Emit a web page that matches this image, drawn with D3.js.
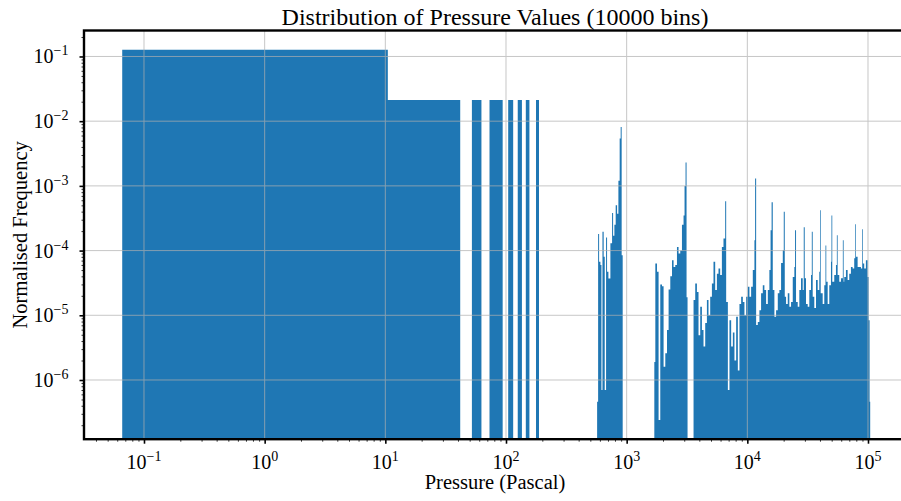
<!DOCTYPE html>
<html>
<head>
<meta charset="utf-8">
<script src="https://cdn.jsdelivr.net/npm/d3@7"></script>
<style>
  body { margin: 0; background: #fff; }
  svg { display: block; }
  text { font-family: "Liberation Serif", "DejaVu Serif", serif; fill: #000; }
</style>
</head>
<body>
<div id="chart"></div>
<script>
// low pressure bins (Pa), bin width ~10.42 Pa
const lowStart = [0.066, 10.49, 52.17, 73.01, 104.27, 125.11, 145.95, 177.21];
const lowEnd   = [10.49, 41.75, 62.59, 93.85, 114.69, 135.53, 156.37, 187.63];
const lowFreq  = [0.127, 0.0212, 0.0212, 0.0212, 0.0212, 0.0212, 0.0212, 0.0212];

// high pressure bars: consecutive edges (Pa), one frequency per interval, 0 = empty
const highEdges = [
  569, 580, 591, 606, 618, 630, 645, 658, 675, 688, 706, 733, 757, 772, 791, 811, 833, 854, 875, 892, 909, 927,
  1695, 1728, 1784, 1839, 1899, 1963, 2023, 2090, 2159, 2226, 2299, 2375, 2448, 2528, 2611, 2692, 2781, 2872,
  2961, 3018, 3076, 3136, 3196,
  3583, 3700, 3822, 3940, 4070, 4204, 4334, 4477, 4624, 4767, 4924, 5086, 5243, 5416, 5594, 5768, 5957, 6153,
  6343, 6553, 6678, 6898, 7111, 7345, 7587, 7822, 8079, 8345, 8605, 8887, 9180, 9463, 9775, 10095, 10410,
  10750, 11100, 11450, 11600, 11830, 12210, 12590, 13000, 13430, 13850, 14310, 14780, 15230, 15580, 15890,
  16250, 16760, 17310, 17880, 18430, 19040, 19670, 20040, 20430, 20940, 21630, 22300, 23030, 23790, 24530,
  24860, 25330, 26160, 26970, 27860, 28780, 29340, 29900, 30650, 31650, 32630, 33710, 34220, 34820, 35890,
  37080, 38300, 39480, 40010, 40550, 42120, 43420, 44420, 45110, 46330, 47760, 49330, 49800, 50570, 52530,
  54260, 55200, 56040, 57780, 59680, 61880, 62830, 63550, 65650, 67810, 69910, 72200, 74580, 76880, 78360,
  79420, 82040, 84570, 87360, 89540, 90750, 93030, 96070, 99240, 101200, 103100, 104300
];
const highFreq = [
  4.6e-7, 1.8e-4, 6.7e-5, 6e-5, 7e-7, 1.95e-4, 8e-5, 7e-7, 1.6e-4, 4.7e-5, 3.7e-5, 1.3e-4, 3.8e-4, 1.7e-4,
  2.5e-4, 5e-4, 3.7e-4, 1.2e-3, 5.4e-3, 8.1e-3, 8.5e-5,
  0,
  1.9e-6, 6.3e-5, 4.7e-5, 2.4e-7, 3e-5, 2.8e-5, 1.6e-6, 2.6e-6, 5.9e-6, 2.5e-5, 4e-5, 7.1e-5, 5.6e-5, 6e-5,
  1.14e-4, 9e-5, 1e-4, 2.5e-4, 3.5e-4, 1e-3, 2.3e-3, 1.9e-5,
  0,
  1.72e-5, 3.1e-5, 2.3e-5, 4.9e-6, 1.35e-5, 5.9e-6, 3.3e-6, 7.6e-6, 1.72e-5, 1.0e-5, 1.93e-5, 3.1e-5, 6.7e-5,
  2.45e-5, 4.4e-5, 5.3e-5, 4.2e-5, 1.14e-4, 1.54e-4, 5.8e-4, 1.6e-5, 7e-7, 8.4e-6, 3.3e-6, 5.4e-6, 2e-6,
  9.5e-6, 1.4e-6, 1.5e-5, 1.93e-5, 1.6e-5, 1.0e-5, 1.93e-5, 2.75e-5, 1.93e-5, 2.75e-5, 5e-5, 1.45e-4, 1.3e-3,
  7.1e-6, 7.9e-6, 1.2e-5, 2.2e-5, 2.9e-5, 2.45e-5, 1.5e-5, 2.45e-5, 5e-5, 2.07e-4, 5.6e-4, 2.45e-5, 9.5e-6,
  1.2e-5, 2.2e-5, 2.45e-5, 6.4e-5, 1.01e-4, 4e-4, 1.93e-5, 1.5e-5, 2.2e-5, 1.35e-5, 1.6e-5, 3.9e-5, 5.6e-5,
  2.07e-4, 1.6e-5, 1.35e-5, 2.45e-5, 3.75e-5, 2.45e-5, 2.3e-4, 3.75e-5, 1.5e-5, 1.35e-5, 2.45e-5, 4.2e-5,
  1.95e-4, 1.93e-5, 1.3e-5, 3.5e-5, 2.45e-5, 4.7e-5, 4.2e-4, 2.2e-5, 1.5e-5, 2.9e-5, 1.2e-4, 3.3e-5, 1.5e-5,
  2.9e-5, 6.7e-5, 3.5e-4, 3.3e-5, 4.2e-5, 6e-5, 1.73e-4, 4.2e-5, 3.3e-5, 3.75e-5, 1.45e-4, 3.3e-5, 3.9e-5,
  5e-5, 3.5e-5, 4.4e-5, 5.6e-5, 5.3e-5, 7.6e-5, 2.55e-4, 8e-5, 5.6e-5, 5.6e-5, 5.3e-5, 2.14e-4, 6.3e-5,
  5.3e-5, 7.1e-5, 3.9e-5, 8.4e-6, 4.6e-7
];

const xTicks = [1e-1, 1e0, 1e1, 1e2, 1e3, 1e4, 1e5];
const xTickExp = ["\u22121", "0", "1", "2", "3", "4", "5"];
const yTicks = [1e-6, 1e-5, 1e-4, 1e-3, 1e-2, 1e-1];
const yTickExp = ["\u22126", "\u22125", "\u22124", "\u22123", "\u22122", "\u22121"];
const xDomain = [0.03183, 206500];
const yDomain = [1.216e-7, 0.252];

const title = "Distribution of Pressure Values (10000 bins)";
const xLabel = "Pressure (Pascal)";
const yLabel = "Normalised Frequency";

const margin = { top: 30.5, right: -5, bottom: 61.8, left: 84 };
const totalW = 901, totalH = 501;
const width = totalW - margin.left - margin.right;
const height = totalH - margin.top - margin.bottom;

const svg = d3.select("#chart").append("svg")
    .attr("width", totalW)
    .attr("height", totalH);

const g = svg.append("g")
    .attr("transform", `translate(${margin.left},${margin.top})`);

const x = d3.scaleLog().domain(xDomain).range([0, width]);
const y = d3.scaleLog().domain(yDomain).range([height, 0]);

g.append("clipPath").attr("id", "clip")
  .append("rect").attr("width", width).attr("height", height);

// build bar table (start, end, frequency); empty bins drop to the floor
const barData = lowStart.map((s, i) => ({ s, e: lowEnd[i], f: lowFreq[i] }));
highFreq.forEach((f, i) => barData.push({ s: highEdges[i], e: highEdges[i + 1], f }));

// one outline for all bars so neighbouring bins don't leave seams
let d = "";
barData.forEach((b, i) => {
  const x0 = x(b.s), x1 = x(b.e);
  const top = b.f > 0 ? y(b.f) : height;
  const prev = barData[i - 1];
  if (!prev || prev.e !== b.s) d += `M${x0},${height}`;
  d += `L${x0},${top}L${x1},${top}`;
  const next = barData[i + 1];
  if (!next || next.s !== b.e) d += `L${x1},${height}Z`;
});

g.append("g").attr("clip-path", "url(#clip)")
  .append("path")
    .attr("d", d)
    .attr("fill", "#1f77b4");

// grid on top of bars
const grid = g.append("g").attr("stroke", "#b0b0b0").attr("stroke-width", 1).attr("opacity", 0.7);
grid.selectAll(".vx").data(xTicks).enter().append("line")
    .attr("x1", d => x(d)).attr("x2", d => x(d))
    .attr("y1", 0).attr("y2", height);
grid.selectAll(".hy").data(yTicks).enter().append("line")
    .attr("x1", 0).attr("x2", width)
    .attr("y1", d => y(d)).attr("y2", d => y(d));

// minor ticks
function minors(domain) {
  const out = [];
  for (let k = Math.floor(Math.log10(domain[0])); k <= Math.ceil(Math.log10(domain[1])); k++) {
    for (let m = 2; m <= 9; m++) {
      const v = m * Math.pow(10, k);
      if (v >= domain[0] && v <= domain[1]) out.push(v);
    }
  }
  return out;
}

const xMinor = g.append("g").attr("transform", `translate(0,${height})`)
  .call(d3.axisBottom(x).tickValues(minors(xDomain)).tickSize(2.5).tickFormat(""));
const xMajor = g.append("g").attr("transform", `translate(0,${height})`)
  .call(d3.axisBottom(x).tickValues(xTicks).tickSize(4.5).tickFormat(""));
const yMinor = g.append("g")
  .call(d3.axisLeft(y).tickValues(minors(yDomain)).tickSize(2.5).tickFormat(""));
const yMajor = g.append("g")
  .call(d3.axisLeft(y).tickValues(yTicks).tickSize(4.5).tickFormat(""));

[xMinor, xMajor, yMinor, yMajor].forEach(a => a.select(".domain").remove());
xMinor.selectAll("line").attr("stroke-width", 0.8);
yMinor.selectAll("line").attr("stroke-width", 0.8);
xMajor.selectAll("line").attr("stroke-width", 1.6);
yMajor.selectAll("line").attr("stroke-width", 1.6);

// tick labels with superscripts
const xl = g.append("g").selectAll("text").data(xTicks).enter().append("text")
    .attr("x", d => x(d))
    .attr("y", height + 29.5)
    .attr("text-anchor", "middle")
    .attr("font-size", 20);
xl.append("tspan").text("10");
xl.append("tspan").attr("dy", -8).attr("font-size", 14).text((d, i) => xTickExp[i]);

const yl = g.append("g").selectAll("text").data(yTicks).enter().append("text")
    .attr("x", -15.5)
    .attr("y", d => y(d) + 7)
    .attr("text-anchor", "end")
    .attr("font-size", 20);
yl.append("tspan").text("10");
yl.append("tspan").attr("dy", -8).attr("font-size", 14).text((d, i) => yTickExp[i]);

// spines
const spine = g.append("g").attr("stroke", "#000").attr("stroke-width", 2.4).attr("fill", "none");
spine.append("rect").attr("width", width).attr("height", height);

// labels
svg.append("text")
    .attr("x", margin.left + width / 2)
    .attr("y", 25)
    .attr("text-anchor", "middle")
    .attr("font-size", 24)
    .text(title);

svg.append("text")
    .attr("x", margin.left + width / 2)
    .attr("y", 489)
    .attr("text-anchor", "middle")
    .attr("font-size", 20.5)
    .text(xLabel);

svg.append("text")
    .attr("transform", `translate(27,${margin.top + height / 2}) rotate(-90)`)
    .attr("text-anchor", "middle")
    .attr("font-size", 20.5)
    .text(yLabel);
</script>
</body>
</html>
